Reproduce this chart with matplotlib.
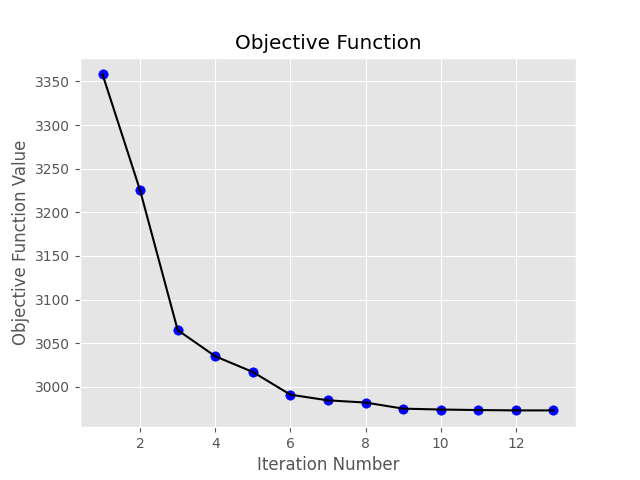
import matplotlib
matplotlib.use("Agg")
import matplotlib.pyplot as plt

plt.style.use("ggplot")

iterations = list(range(1, 14))
objective = [3358, 3225, 3065, 3035, 3017, 2991, 2984.5, 2982, 2975, 2974, 2973.4, 2973, 2973]

fig = plt.figure(figsize=(6.4, 4.8), dpi=100)
plt.scatter(iterations, objective, c="blue", s=45)
plt.plot(iterations, objective, color="black", linewidth=1.5)
plt.title("Objective Function")
plt.xlabel("Iteration Number")
plt.ylabel("Objective Function Value")
plt.savefig("out.png", dpi=100)
